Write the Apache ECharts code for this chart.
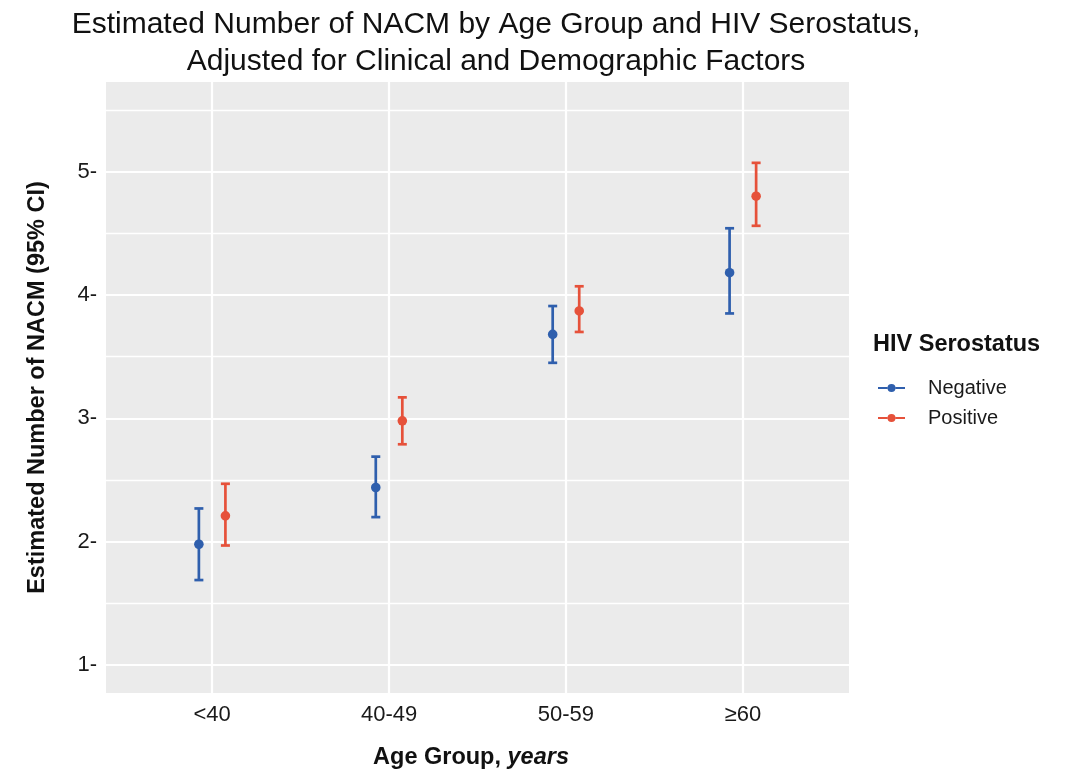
<!DOCTYPE html>
<html>
<head>
<meta charset="utf-8">
<title>Estimated Number of NACM by Age Group and HIV Serostatus</title>
<script src="https://cdn.jsdelivr.net/npm/echarts@6/dist/echarts.min.js"></script>
<style>
  html, body { margin: 0; padding: 0; background: #ffffff; }
  #chart { width: 1066px; height: 769px; }
</style>
</head>
<body>
<div id="chart"></div>
<script>
// Age groups on the x axis
const categories = ['<40', '40-49', '50-59', '\u226560'];

// HIV-negative: estimate with 95% CI
const negMean = [1.98, 2.44, 3.68, 4.18];
const negLow  = [1.69, 2.20, 3.45, 3.85];
const negHigh = [2.27, 2.69, 3.91, 4.54];

// HIV-positive: estimate with 95% CI
const posMean = [2.21, 2.98, 3.87, 4.80];
const posLow  = [1.97, 2.79, 3.70, 4.56];
const posHigh = [2.47, 3.17, 4.07, 5.07];

// Y axis ticks and grid
const yTicks = [1, 2, 3, 4, 5];
const yMinorTicks = [1.5, 2.5, 3.5, 4.5, 5.5];
const xTicks = [1, 2, 3, 4];

const FONT = "'Liberation Sans', Arial, Helvetica, sans-serif";
const BLUE = '#2f5fad';
const RED = '#e6513a';
const DODGE = 0.075;   // half of the dodge width between the two groups

function buildRows(mean, low, high, shift) {
  return categories.map((c, i) => [i + 1 + shift, mean[i], low[i], high[i]]);
}

// Error bar with caps and a point at the estimate
function renderErrorBar(params, api) {
  const x = api.value(0);
  const pm = api.coord([x, api.value(1)]);
  const pl = api.coord([x, api.value(2)]);
  const ph = api.coord([x, api.value(3)]);
  const color = api.visual('color');
  const cap = 4.5;
  const lw = 2.7;
  return {
    type: 'group',
    children: [
      { type: 'line', shape: { x1: pl[0], y1: pl[1], x2: ph[0], y2: ph[1] }, style: { stroke: color, lineWidth: lw } },
      { type: 'line', shape: { x1: pl[0] - cap, y1: pl[1], x2: pl[0] + cap, y2: pl[1] }, style: { stroke: color, lineWidth: lw } },
      { type: 'line', shape: { x1: ph[0] - cap, y1: ph[1], x2: ph[0] + cap, y2: ph[1] }, style: { stroke: color, lineWidth: lw } },
      { type: 'circle', shape: { cx: pm[0], cy: pm[1], r: 4.8 }, style: { fill: color } }
    ]
  };
}

// Legend key: horizontal line with a solid dot in the middle
const KEY_ICON = 'path://M0,3.9H9.7V6.1H0Z M17.3,3.9H27V6.1H17.3Z M9.5,5A4,4 0 1,0 17.5,5A4,4 0 1,0 9.5,5Z';

const gridLines = []
  .concat(yMinorTicks.map(v => ({ yAxis: v, lineStyle: { color: '#ffffff', width: 1.3, type: 'solid' } })))
  .concat(yTicks.map(v => ({ yAxis: v, lineStyle: { color: '#ffffff', width: 2.2, type: 'solid' } })))
  .concat(xTicks.map(v => ({ xAxis: v, lineStyle: { color: '#ffffff', width: 2.2, type: 'solid' } })));

const chart = echarts.init(document.getElementById('chart'), null, { renderer: 'canvas' });

chart.setOption({
  backgroundColor: '#ffffff',
  animation: false,
  textStyle: { fontFamily: FONT },
  title: [
    {
      text: 'Estimated Number of NACM by Age Group and HIV Serostatus,\nAdjusted for Clinical and Demographic Factors',
      left: 496,
      top: 6,
      padding: 0,
      textAlign: 'center',
      textStyle: { fontFamily: FONT, fontSize: 30, fontWeight: 'normal', color: '#111111', lineHeight: 37 }
    },
    {
      text: 'HIV Serostatus',
      left: 873,
      top: 332,
      padding: 0,
      textStyle: { fontFamily: FONT, fontSize: 23.5, fontWeight: 'bold', color: '#111111', lineHeight: 26 }
    }
  ],
  legend: {
    orient: 'vertical',
    left: 878,
    top: 377,
    padding: 0,
    itemWidth: 27,
    itemHeight: 10,
    itemGap: 8,
    data: [
      { name: 'Negative', icon: KEY_ICON },
      { name: 'Positive', icon: KEY_ICON }
    ],
    textStyle: { fontFamily: FONT, fontSize: 20, color: '#1a1a1a', lineHeight: 22, padding: [0, 0, 0, 18] }
  },
  grid: {
    left: 106,
    right: 217,
    top: 82,
    bottom: 76,
    outerBoundsMode: 'none',
    containLabel: false,
    show: true,
    backgroundColor: '#ebebeb',
    borderWidth: 0
  },
  xAxis: {
    type: 'value',
    min: 0.4,
    max: 4.6,
    axisLine: { show: false },
    axisTick: { show: false },
    splitLine: { show: false },
    axisLabel: {
      customValues: xTicks,
      formatter: v => categories[Math.round(v) - 1],
      fontFamily: FONT,
      fontSize: 22,
      color: '#1a1a1a',
      margin: 11
    },
    name: '{b|Age Group, }{i|years}',
    nameLocation: 'middle',
    nameGap: 53,
    nameTextStyle: {
      padding: [0, 13, 0, 0],
      rich: {
        b: { fontFamily: FONT, fontSize: 23.5, fontWeight: 'bold', color: '#111111' },
        i: { fontFamily: FONT, fontSize: 23.5, fontWeight: 'bold', fontStyle: 'italic', color: '#111111' }
      }
    }
  },
  yAxis: {
    type: 'value',
    min: 0.775,
    max: 5.725,
    axisLine: { show: false },
    axisTick: { show: false },
    splitLine: { show: false },
    axisLabel: {
      customValues: yTicks,
      formatter: v => v + '-',
      fontFamily: FONT,
      fontSize: 22,
      color: '#1a1a1a',
      margin: 9
    },
    name: 'Estimated Number of NACM (95% CI)',
    nameLocation: 'middle',
    nameGap: 56,
    nameTextStyle: { fontFamily: FONT, fontSize: 23.5, fontWeight: 'bold', color: '#111111' }
  },
  series: [
    {
      name: 'grid',
      type: 'line',
      data: [],
      silent: true,
      z: 1,
      markLine: {
        silent: true,
        symbol: 'none',
        label: { show: false },
        emphasis: { disabled: true },
        data: gridLines
      }
    },
    {
      name: 'Negative',
      type: 'custom',
      z: 5,
      itemStyle: { color: BLUE },
      renderItem: renderErrorBar,
      encode: { x: 0, y: [1, 2, 3] },
      data: buildRows(negMean, negLow, negHigh, -DODGE)
    },
    {
      name: 'Positive',
      type: 'custom',
      z: 5,
      itemStyle: { color: RED },
      renderItem: renderErrorBar,
      encode: { x: 0, y: [1, 2, 3] },
      data: buildRows(posMean, posLow, posHigh, DODGE)
    }
  ]
});
</script>
</body>
</html>
